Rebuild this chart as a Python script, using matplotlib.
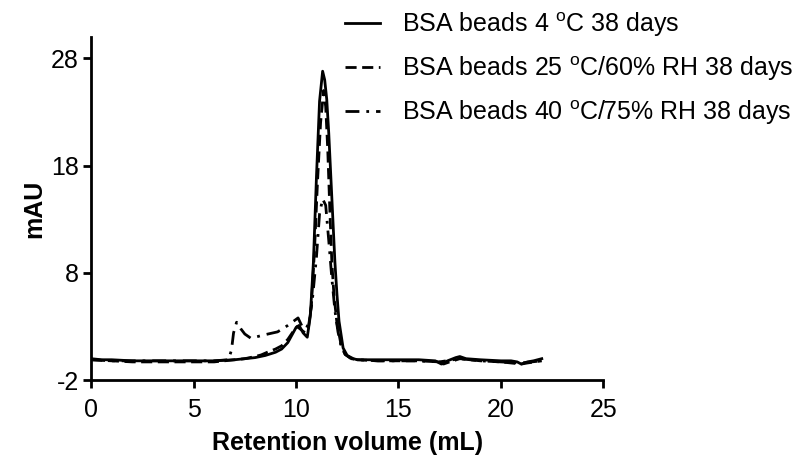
import matplotlib
matplotlib.use('Agg')
import matplotlib.pyplot as plt

plt.rcParams['font.family'] = ['Liberation Sans', 'DejaVu Sans']
plt.rcParams['mathtext.fontset'] = 'custom'
plt.rcParams['mathtext.rm'] = 'Liberation Sans'
plt.rcParams['axes.unicode_minus'] = False

# 4 oC
x_4c = [0, 0.5, 1, 2, 3, 4, 5, 6, 7, 7.5, 8, 8.5, 9, 9.3, 9.6, 9.8, 10.0, 10.15, 10.35, 10.55,
        10.7, 10.85, 11.0, 11.15, 11.3, 11.4, 11.5, 11.6, 11.7, 11.8, 11.9, 12.0, 12.1, 12.3,
        12.5, 12.8, 13, 14, 15, 16, 16.8, 17.1, 17.4, 17.8, 18.0, 18.3, 19, 20, 20.5, 20.8,
        21.0, 21.3, 21.6, 22]
y_4c = [0.0, -0.1, -0.1, -0.2, -0.2, -0.2, -0.2, -0.2, -0.1, 0.0, 0.1, 0.3, 0.6, 0.9, 1.5, 2.2,
        2.9, 3.1, 2.4, 2.0,
        4.0, 9.0, 17.0, 24.0, 26.8, 26.0, 24.2, 21.0, 17.0, 13.0, 9.0, 6.0, 3.5, 1.0,
        0.3, 0.0, -0.1, -0.1, -0.1, -0.1, -0.2, -0.5, -0.2, 0.1, 0.2, 0.0, -0.1, -0.2, -0.2, -0.3,
        -0.5, -0.3, -0.2, 0.0]

# 25 oC/60% RH
x_25c = [0, 1, 2, 3, 4, 5, 6, 6.5, 7, 7.5, 8, 8.3, 8.6, 9.0, 9.3, 9.6, 9.85, 10.05, 10.25, 10.45,
         10.6, 10.75, 10.9, 11.05, 11.2, 11.35, 11.45, 11.55, 11.65, 11.75, 11.85, 12.0, 12.2,
         12.4, 12.7, 13, 14, 15, 16, 17, 17.2, 17.5, 18, 19, 20, 21, 21.3, 22]
y_25c = [-0.1, -0.2, -0.3, -0.3, -0.3, -0.3, -0.3, -0.2, -0.1, 0.0, 0.2, 0.35, 0.6, 0.9, 1.2, 1.8,
         2.5, 3.0, 2.7, 2.4,
         2.8, 5.0, 10.0, 16.5, 22.0, 25.0, 23.5, 19.5, 14.0, 9.0, 6.0, 3.3, 1.3,
         0.4, 0.0, -0.1, -0.2, -0.2, -0.2, -0.3, -0.5, -0.3, 0.0, -0.2, -0.3, -0.5, -0.4, -0.2]

# 40 oC/75% RH
x_40c = [0, 1, 2, 3, 4, 5, 6, 6.7, 6.85, 6.95, 7.1, 7.3, 7.5, 7.8, 8.4, 9.1, 9.6, 10.1, 10.3,
         10.5, 10.65, 10.8, 11.0, 11.15, 11.3, 11.45, 11.6, 11.75, 11.9, 12.05, 12.2, 12.4,
         12.7, 13, 14, 15, 16, 17, 18, 19, 20, 21, 22]
y_40c = [-0.1, -0.2, -0.2, -0.2, -0.2, -0.2, -0.2, -0.1, 0.8, 2.4, 3.4, 2.8, 2.3, 1.9, 2.2, 2.5,
         3.1, 3.8, 3.0,
         2.8, 3.5, 5.5, 9.5, 13.5, 14.9, 14.3, 11.0, 7.5, 4.5, 2.5, 1.2, 0.4,
         0.0, -0.1, -0.2, -0.2, -0.2, -0.3, 0.0, -0.2, -0.3, -0.4, -0.2]

labels = [r'BSA beads 4 $^{\mathrm{o}}$C 38 days',
          r'BSA beads 25 $^{\mathrm{o}}$C/60% RH 38 days',
          r'BSA beads 40 $^{\mathrm{o}}$C/75% RH 38 days']

fig = plt.figure(figsize=(8, 4.67), dpi=100)
ax = fig.add_axes([0.114, 0.186, 0.64, 0.735])

lw = 2.0
ax.plot(x_4c, y_4c, color='black', lw=lw, ls='-', label=labels[0])
ax.plot(x_25c, y_25c, color='black', lw=lw, ls=(0, (4, 2)), label=labels[1])
ax.plot(x_40c, y_40c, color='black', lw=lw, ls=(0, (5, 2.5, 1, 2.5)), label=labels[2])

ax.set_xlim(0, 25)
ax.set_ylim(-2, 30)
ax.set_xticks([0, 5, 10, 15, 20, 25])
ax.set_yticks([-2, 8, 18, 28])

for s in ['top', 'right']:
    ax.spines[s].set_visible(False)
for s in ['left', 'bottom']:
    ax.spines[s].set_linewidth(2)
ax.tick_params(axis='y', which='major', direction='out', length=6, width=2,
               labelsize=18, pad=3)
ax.tick_params(axis='x', which='major', direction='out', length=6, width=2,
               labelsize=18, pad=7)

ax.set_xlabel('Retention volume (mL)', fontsize=18, fontweight='bold', labelpad=6)
ax.set_ylabel('mAU', fontsize=18, fontweight='bold', labelpad=3)

ax.legend(loc='upper left', bbox_to_anchor=(0.431, 0.978), bbox_transform=fig.transFigure,
          frameon=False, fontsize=18, handlelength=1.4, handletextpad=0.9,
          labelspacing=0.62, borderpad=0, borderaxespad=0)

fig.savefig('out.png', dpi=100)
